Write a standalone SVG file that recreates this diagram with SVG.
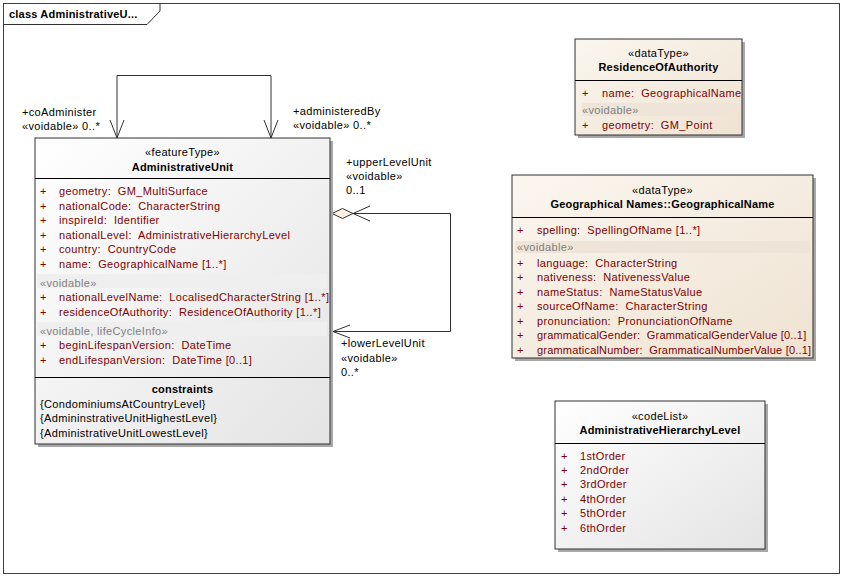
<svg xmlns="http://www.w3.org/2000/svg" width="844" height="578" viewBox="0 0 844 578">
<defs>
<linearGradient id="gGray" x1="0" y1="0" x2="1" y2="1">
<stop offset="0" stop-color="#FFFFFF"/>
<stop offset="1" stop-color="#E4E4E4"/>
</linearGradient>
<linearGradient id="gBeige" x1="0" y1="0" x2="1" y2="1">
<stop offset="0" stop-color="#FBF6EF"/>
<stop offset="1" stop-color="#EFE3D2"/>
</linearGradient>
<style>
text{font-family:"Liberation Sans",Arial,sans-serif;font-size:11px;fill:#000;white-space:pre;letter-spacing:0.35px}
.b{font-weight:bold;letter-spacing:0.2px}
.c{text-anchor:middle}
.a{fill:#800000}
.s{fill:#808080}
.t{letter-spacing:0.2px}
.box{stroke:#303030;stroke-width:1}
.sh{fill:#A8A8A8}
.sep{stroke:#000;stroke-width:1}
.bandG{fill:#EFEFEF}
.bandB{fill:#EEE5D8}
.ln{fill:none;stroke:#303030;stroke-width:1}
</style>
</defs>
<rect width="844" height="578" fill="#FFFFFF"/>
<g id="frame">
<rect x="3.5" y="3.5" width="836" height="570" fill="none" stroke="#404040"/>
<path d="M3.5,24.5 H147 L160,11 V3.5" fill="none" stroke="#303030"/>
<text x="9" y="18" class="b">class AdministrativeU...</text>
</g>
<g id="connectors">
<path class="ln" d="M117,138 V75.5 H271 V138"/>
<path class="ln" d="M110,120 L117,138 L124,120"/>
<path class="ln" d="M264,120 L271,138 L278,120"/>
<path class="ln" d="M353,213.5 H450.5 V331.5 H333"/>
<path d="M332,213.5 L342.5,208.5 L353,213.5 L342.5,218.5 Z" fill="#FBF1E4" stroke="#303030"/>
<path class="ln" d="M370,206 L353,213.5 L370,221"/>
<path class="ln" d="M350,325 L333,331.5 L350,338"/>
<text x="22" y="116">+coAdminister</text>
<text x="22" y="130">«voidable» 0..*</text>
<text x="293" y="115">+administeredBy</text>
<text x="293" y="129">«voidable» 0..*</text>
<text x="346" y="166">+upperLevelUnit</text>
<text x="346" y="180">«voidable»</text>
<text x="346" y="194">0..1</text>
<text x="341" y="347">+lowerLevelUnit</text>
<text x="341" y="362">«voidable»</text>
<text x="341" y="376">0..*</text>
</g>
<g id="AdministrativeUnit">
<rect x="38" y="141" width="295" height="306" class="sh"/>
<rect x="35" y="138" width="295" height="306" fill="url(#gGray)" class="box"/>
<line x1="35" y1="178.5" x2="330" y2="178.5" class="sep"/>
<text x="182.5" y="156" class="c">«featureType»</text>
<text x="182.5" y="171" class="c b">AdministrativeUnit</text>
<svg x="35" y="138" width="295" height="306" overflow="hidden">
<text x="5" y="57" class="a">+</text><text x="24" y="57" class="a">geometry:  GM_MultiSurface</text>
<text x="5" y="71.5" class="a">+</text><text x="24" y="71.5" class="a">nationalCode:  CharacterString</text>
<text x="5" y="86" class="a">+</text><text x="24" y="86" class="a">inspireId:  Identifier</text>
<text x="5" y="100.5" class="a">+</text><text x="24" y="100.5" class="a">nationalLevel:  AdministrativeHierarchyLevel</text>
<text x="5" y="115" class="a">+</text><text x="24" y="115" class="a">country:  CountryCode</text>
<text x="5" y="129.5" class="a">+</text><text x="24" y="129.5" class="a">name:  GeographicalName [1..*]</text>
<rect x="2" y="136" width="290" height="14" class="bandG"/>
<text x="5" y="149" class="s">«voidable»</text>
<text x="5" y="163" class="a">+</text><text x="24" y="163" class="a">nationalLevelName:  LocalisedCharacterString [1..*]</text>
<text x="5" y="178" class="a">+</text><text x="24" y="178" class="a">residenceOfAuthority:  ResidenceOfAuthority [1..*]</text>
<rect x="2" y="184" width="290" height="14" class="bandG"/>
<text x="5" y="197" class="s">«voidable, lifeCycleInfo»</text>
<text x="5" y="211" class="a">+</text><text x="24" y="211" class="a">beginLifespanVersion:  DateTime</text>
<text x="5" y="225.5" class="a">+</text><text x="24" y="225.5" class="a">endLifespanVersion:  DateTime [0..1]</text>
</svg>
<line x1="35" y1="377.5" x2="330" y2="377.5" class="sep"/>
<text x="182.5" y="393" class="c b">constraints</text>
<text x="40" y="408">{CondominiumsAtCountryLevel}</text>
<text x="40" y="422">{AdmininstrativeUnitHighestLevel}</text>
<text x="40" y="437">{AdministrativeUnitLowestLevel}</text>
</g>
<g id="ResidenceOfAuthority">
<rect x="578" y="42" width="167" height="96" class="sh"/>
<rect x="575" y="39" width="167" height="96" fill="url(#gBeige)" class="box"/>
<line x1="575" y1="80.5" x2="742" y2="80.5" class="sep"/>
<text x="658.5" y="57" class="c">«dataType»</text>
<text x="658.5" y="71" class="c b">ResidenceOfAuthority</text>
<svg x="575" y="39" width="167" height="96" overflow="hidden">
<text x="7" y="58" class="a">+</text><text x="27" y="58" class="a">name:  GeographicalName</text>
<rect x="7" y="64" width="157" height="13" class="bandB"/>
<text x="7" y="75" class="s">«voidable»</text>
<text x="7" y="90" class="a">+</text><text x="27" y="90" class="a">geometry:  GM_Point</text>
</svg>
</g>
<g id="GeographicalName">
<rect x="515" y="178" width="301" height="183" class="sh"/>
<rect x="512" y="175" width="301" height="183" fill="url(#gBeige)" class="box"/>
<line x1="512" y1="217.5" x2="813" y2="217.5" class="sep"/>
<text x="662.5" y="194" class="c">«dataType»</text>
<text x="662.5" y="208" class="c b">Geographical Names::GeographicalName</text>
<svg x="512" y="175" width="301" height="183" overflow="hidden">
<text x="5" y="59" class="a">+</text><text x="25" y="59" class="a">spelling:  SpellingOfName [1..*]</text>
<rect x="3" y="66" width="295" height="12" class="bandB"/>
<text x="5" y="76" class="s">«voidable»</text>
<text x="5" y="91.5" class="a">+</text><text x="25" y="91.5" class="a">language:  CharacterString</text>
<text x="5" y="106" class="a">+</text><text x="25" y="106" class="a">nativeness:  NativenessValue</text>
<text x="5" y="120.5" class="a">+</text><text x="25" y="120.5" class="a">nameStatus:  NameStatusValue</text>
<text x="5" y="135" class="a">+</text><text x="25" y="135" class="a">sourceOfName:  CharacterString</text>
<text x="5" y="149.5" class="a">+</text><text x="25" y="149.5" class="a">pronunciation:  PronunciationOfName</text>
<text x="5" y="164" class="a">+</text><text x="25" y="164" class="a t">grammaticalGender:  GrammaticalGenderValue [0..1]</text>
<text x="5" y="178.5" class="a">+</text><text x="25" y="178.5" class="a t">grammaticalNumber:  GrammaticalNumberValue [0..1]</text>
</svg>
</g>
<g id="AdministrativeHierarchyLevel">
<rect x="558" y="404" width="210" height="148" class="sh"/>
<rect x="555" y="401" width="210" height="148" fill="url(#gGray)" class="box"/>
<line x1="555" y1="443.5" x2="765" y2="443.5" class="sep"/>
<text x="660" y="420" class="c">«codeList»</text>
<text x="660" y="434" class="c b">AdministrativeHierarchyLevel</text>
<text x="561" y="460" class="a">+</text><text x="580" y="460" class="a">1stOrder</text>
<text x="561" y="473.5" class="a">+</text><text x="580" y="473.5" class="a">2ndOrder</text>
<text x="561" y="488" class="a">+</text><text x="580" y="488" class="a">3rdOrder</text>
<text x="561" y="502.5" class="a">+</text><text x="580" y="502.5" class="a">4thOrder</text>
<text x="561" y="517" class="a">+</text><text x="580" y="517" class="a">5thOrder</text>
<text x="561" y="531.5" class="a">+</text><text x="580" y="531.5" class="a">6thOrder</text>
</g>
</svg>
